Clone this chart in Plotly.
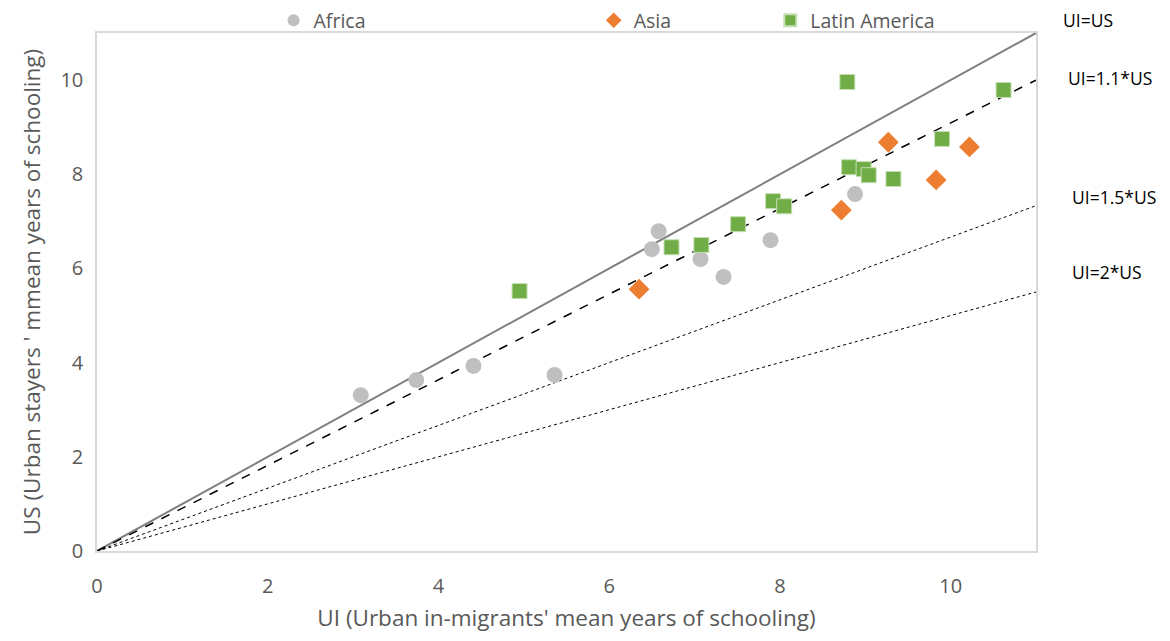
import plotly.graph_objects as go

# Africa
africa_ui = [3.09, 3.74, 4.41, 5.36, 6.50, 6.58, 7.07, 7.34, 7.89, 8.88]
africa_us = [3.31, 3.63, 3.93, 3.74, 6.41, 6.79, 6.20, 5.82, 6.60, 7.58]

# Asia
asia_ui = [6.35, 8.72, 9.27, 9.83, 10.22]
asia_us = [5.56, 7.24, 8.68, 7.88, 8.58]

# Latin America
latam_ui = [4.95, 6.73, 7.08, 7.51, 7.92, 8.05, 8.81, 8.98, 9.04, 9.33, 9.90, 8.79, 10.62]
latam_us = [5.52, 6.45, 6.50, 6.94, 7.43, 7.32, 8.15, 8.11, 7.98, 7.90, 8.75, 9.96, 9.79]

# reference lines: US = UI / ratio
ratios = [1, 1.1, 1.5, 2]
ratio_labels = ["UI=US", "UI=1.1*US", "UI=1.5*US", "UI=2*US"]
x_end = 11

font = "Open Sans"
grey_txt = "#595959"

fig = go.Figure()

line_styles = [
    dict(color="#7f7f7f", width=2, dash="solid"),
    dict(color="black", width=1.5, dash="dash"),
    dict(color="black", width=1, dash="dot"),
    dict(color="black", width=1, dash="dot"),
]
for r, st in zip(ratios, line_styles):
    fig.add_trace(go.Scatter(x=[0, x_end], y=[0, x_end / r], mode="lines",
                             line=st, showlegend=False, hoverinfo="skip"))

fig.add_trace(go.Scatter(x=africa_ui, y=africa_us, mode="markers", name="Africa",
                         marker=dict(symbol="circle", size=16, color="#BFBFBF"),
                         legend="legend"))
fig.add_trace(go.Scatter(x=asia_ui, y=asia_us, mode="markers", name="Asia",
                         marker=dict(symbol="diamond", size=16, color="#ED7D31"),
                         legend="legend2"))
fig.add_trace(go.Scatter(x=latam_ui, y=latam_us, mode="markers", name="Latin America",
                         marker=dict(symbol="square", size=15, color="#70AD47",
                                     line=dict(color="#c5e0b4", width=1)),
                         legend="legend3"))

# labels for the reference lines (right of the plot)
label_pos = [(1.027, 1.025), (1.032, 0.913), (1.036, 0.683), (1.036, 0.539)]
for txt, (px, py) in zip(ratio_labels, label_pos):
    fig.add_annotation(text=txt, x=px, y=py, xref="paper", yref="paper",
                       xanchor="left", yanchor="middle", showarrow=False,
                       font=dict(family=font, size=17.5, color="black"))

leg = dict(orientation="h", yanchor="middle", y=1.024, xanchor="left",
           bgcolor="rgba(0,0,0,0)", font=dict(family=font, size=19.5, color=grey_txt),
           itemsizing="constant")

axis_common = dict(range=[0, 11], dtick=2, showgrid=False, zeroline=False,
                   showline=True, linecolor="#d9d9d9", linewidth=1.5, mirror=True,
                   ticks="", tickfont=dict(family=font, size=20, color=grey_txt))

# the page body adds an 8px offset, so the figure is drawn 8px smaller
fig.update_layout(
    width=1154, height=625,
    margin=dict(l=89, r=126, t=25, b=82, autoexpand=False),
    plot_bgcolor="white", paper_bgcolor="white",
    xaxis=dict(**axis_common, ticklabelstandoff=16,
               title=dict(text="UI (Urban in-migrants' mean years of schooling)",
                          font=dict(family=font, size=22.5, color=grey_txt), standoff=16)),
    yaxis=dict(**axis_common, ticklabelstandoff=8,
               title=dict(text="US (Urban stayers ' mmean years of schooling)",
                          font=dict(family=font, size=22.5, color=grey_txt), standoff=14)),
    legend=dict(**leg, x=0.188),
    legend2=dict(**leg, x=0.529),
    legend3=dict(**leg, x=0.717),
)

fig.write_html("out.html")
